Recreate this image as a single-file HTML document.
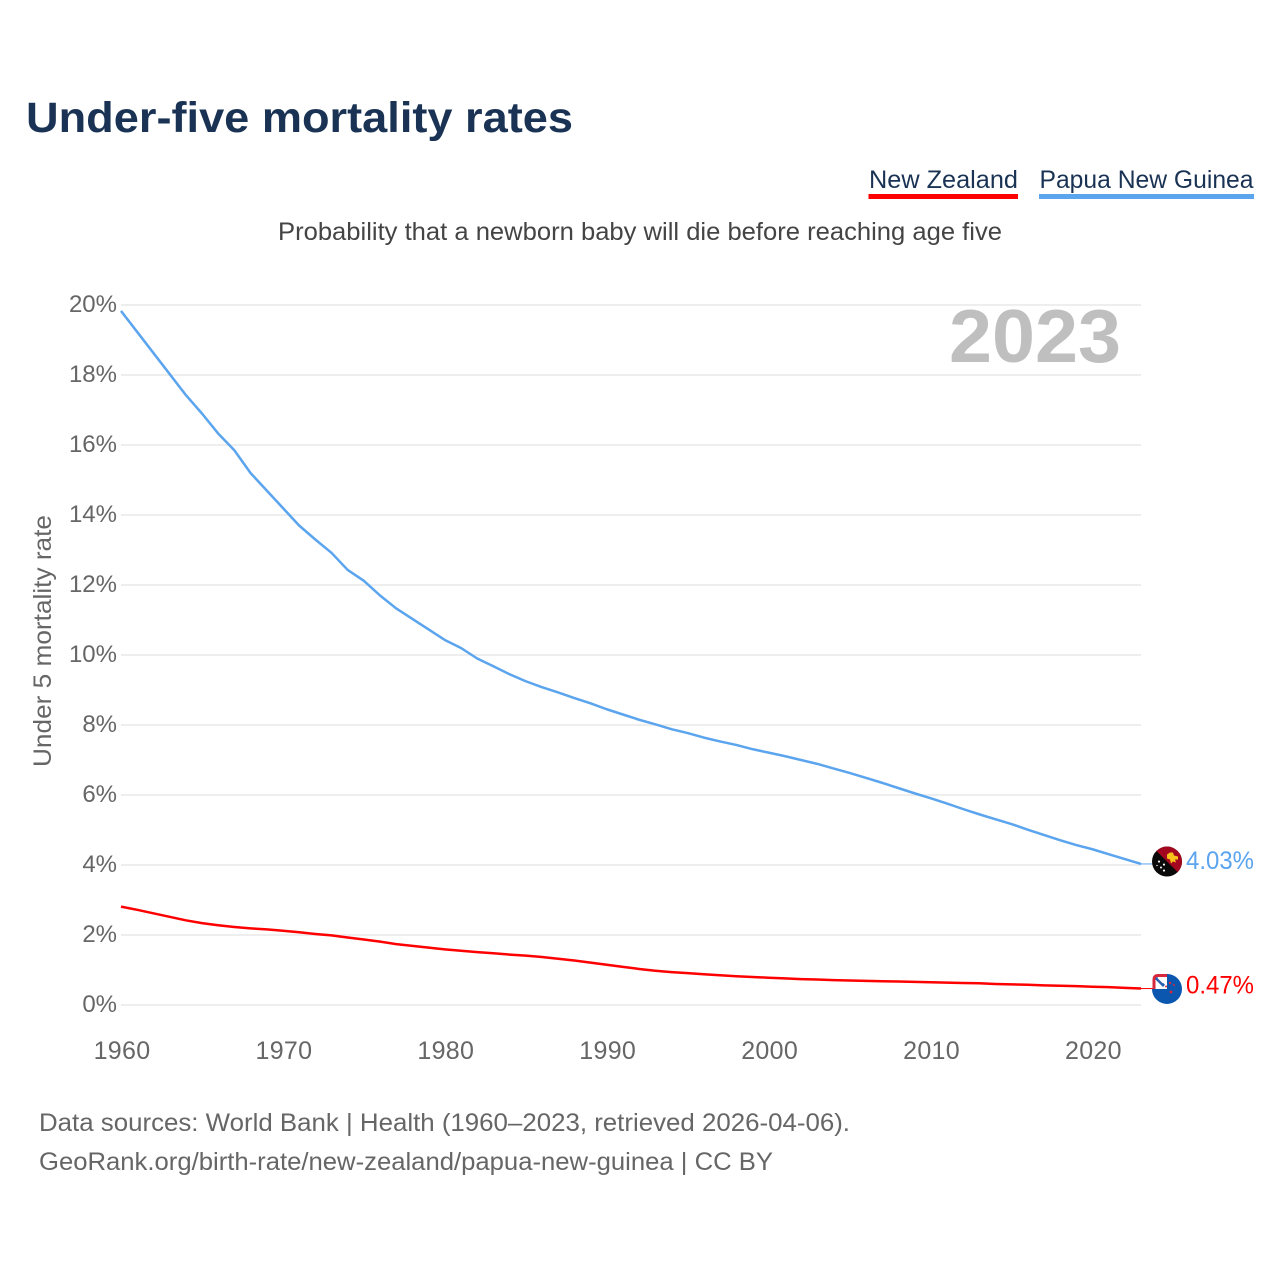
<!DOCTYPE html>
<html lang="en">
<head>
<meta charset="utf-8">
<title>Under-five mortality rates</title>
<style>
html,body{margin:0;padding:0;background:#fff}
svg{display:block}
text{font-family:"Liberation Sans",sans-serif}
</style>
</head>
<body>
<svg id="chart" xmlns="http://www.w3.org/2000/svg" width="1280" height="1280" viewBox="0 0 1280 1280">
<rect width="1280" height="1280" fill="#fff"/>
<text x="26" y="132" font-size="43" font-weight="700" fill="#1a3354" textLength="547" lengthAdjust="spacingAndGlyphs">Under-five mortality rates</text>
<g>
<text x="869" y="188" font-size="25" fill="#1a3354" textLength="149" lengthAdjust="spacingAndGlyphs">New Zealand</text>
<rect x="868.500" y="194" width="149.500" height="5" fill="#ff0000"/>
</g>
<g>
<text x="1039.500" y="188" font-size="25" fill="#1a3354" textLength="214" lengthAdjust="spacingAndGlyphs">Papua New Guinea</text>
<rect x="1039" y="194" width="215" height="5" fill="#5ba4ee"/>
</g>
<text x="278" y="240" font-size="25" fill="#444" textLength="724" lengthAdjust="spacingAndGlyphs">Probability that a newborn baby will die before reaching age five</text>
<text transform="translate(51,767) rotate(-90)" font-size="25" fill="#666" textLength="252" lengthAdjust="spacingAndGlyphs">Under 5 mortality rate</text>
<g id="grid"></g>
<g id="yticks"></g>
<g id="xticks"></g>
<text x="949" y="362" font-size="75" font-weight="700" fill="#bfbfbf" textLength="172" lengthAdjust="spacingAndGlyphs">2023</text>
<g id="series"></g>
<g id="flag-pg">
<clipPath id="clip-pg"><circle cx="0" cy="0" r="15"/></clipPath>
<g clip-path="url(#clip-pg)">
<rect x="-15" y="-15" width="30" height="30" fill="#0a0a0a"/>
<path d="M-15 -15H15V15Z" fill="#a3071f"/>
<path d="M0 -7l3 -2 3 0 1 3 4 1 0 3 -3 0 1 3 -3 -1 -2 2 -1 -4 -3 -1Z" fill="#f8c21c"/>
<g fill="#fff">
<circle cx="-8" cy="0" r="1.100"/><circle cx="-3" cy="3" r="1.100"/><circle cx="-6" cy="6" r="1"/><circle cx="-3" cy="9" r="1.100"/><circle cx="-10" cy="4" r=".7"/>
</g>
</g>
</g>
<g id="flag-nz">
<path d="M0 -15A15 15 0 1 1 -15 0L-15 0H0Z" fill="#0b57b0"/>
<path d="M-13 0V-9Q-13 -13.500 -9 -13.500H0V0Z" fill="#fff"/>
<path d="M-13 0V-9Q-13 -13.500 -9 -13.500H0" fill="none" stroke="#d8283c" stroke-width="3"/>
<path d="M-11 -11L-3 -3" stroke="#2a5fb0" stroke-width="3"/>
<path d="M-9 -11L-4 -6" stroke="#fff" stroke-width="1"/>
<g fill="#d8283c"><circle cx="3" cy="-6" r="1.200"/><circle cx="-1" cy="-2.500" r="1"/><circle cx="7" cy="-4" r="1"/><circle cx="4" cy="3" r="1.400"/></g>
</g>
<g id="end-labels"></g>
<text x="39" y="1131" font-size="25" fill="#666" textLength="811" lengthAdjust="spacingAndGlyphs">Data sources: World Bank | Health (1960–2023, retrieved 2026-04-06).</text>
<text x="39" y="1170" font-size="25" fill="#666" textLength="734" lengthAdjust="spacingAndGlyphs">GeoRank.org/birth-rate/new-zealand/papua-new-guinea | CC BY</text>
</svg>
<script>
const startYear = 1960;
const endYear = 2023;
const yTickValues = [0, 2, 4, 6, 8, 10, 12, 14, 16, 18, 20];
const xTickValues = [1960, 1970, 1980, 1990, 2000, 2010, 2020];
const newZealandValues = [2.81,2.72,2.62,2.52,2.42,2.34,2.28,2.23,2.19,2.16,2.12,2.08,2.03,1.99,1.93,1.87,1.81,1.74,1.69,1.64,1.59,1.55,1.51,1.48,1.44,1.41,1.37,1.32,1.27,1.21,1.15,1.09,1.03,0.98,0.94,0.91,0.88,0.85,0.82,0.80,0.78,0.76,0.74,0.73,0.71,0.70,0.69,0.68,0.67,0.66,0.65,0.64,0.63,0.62,0.60,0.59,0.58,0.56,0.55,0.54,0.52,0.51,0.49,0.47];
const papuaNewGuineaValues = [19.83,19.23,18.63,18.03,17.43,16.90,16.33,15.85,15.20,14.70,14.20,13.70,13.30,12.92,12.43,12.12,11.70,11.33,11.03,10.73,10.43,10.20,9.90,9.68,9.45,9.25,9.08,8.93,8.77,8.62,8.45,8.30,8.15,8.02,7.88,7.77,7.64,7.53,7.43,7.31,7.21,7.11,7.00,6.89,6.76,6.63,6.49,6.35,6.20,6.05,5.91,5.76,5.60,5.45,5.31,5.17,5.01,4.86,4.71,4.57,4.45,4.31,4.17,4.03];

const NS = 'http://www.w3.org/2000/svg';
function xScale(year) { return 121 + (year - 1960) * (1141 - 121) / (2023 - 1960); }
function yScale(v) { return 1005 - v * 35; }
function make(tag, attrs, parent, txt) {
  const el = document.createElementNS(NS, tag);
  for (const k in attrs) el.setAttribute(k, attrs[k]);
  if (txt !== undefined) el.textContent = txt;
  parent.appendChild(el);
  return el;
}
const grid = document.getElementById('grid');
const yticks = document.getElementById('yticks');
const xticks = document.getElementById('xticks');
const series = document.getElementById('series');
const endLabels = document.getElementById('end-labels');

yTickValues.forEach(function (v) {
  const ln = make('line', {x1: 121, x2: 1141, y1: yScale(v), y2: yScale(v), stroke: '#eeeeee', 'stroke-width': 2}, grid);
  
  
  const t = make('text', {x: 117, y: yScale(v) + 7, 'text-anchor': 'end', 'font-size': 24, fill: '#666'}, yticks, v + '%');
  
  
});
xTickValues.forEach(function (yr) {
  const t = make('text', {x: xScale(yr) + 1, y: 1059, 'text-anchor': 'middle', 'font-size': 25, 'letter-spacing': '0.300', fill: '#666'}, xticks, String(yr));
  
  
});
function linePath(values) {
  return values.map(function (v, i) {
    return (i ? 'L' : 'M') + xScale(startYear + i).toFixed(2) + ' ' + yScale(v).toFixed(2);
  }).join('');
}
const pngLine = make('path', {d: linePath(papuaNewGuineaValues), fill: 'none', stroke: '#5ba4ee', 'stroke-width': 2.5, 'stroke-linejoin': 'round'}, series);


const nzLine = make('path', {d: linePath(newZealandValues), fill: 'none', stroke: '#ff0000', 'stroke-width': 2.5, 'stroke-linejoin': 'round'}, series);



const pngLast = papuaNewGuineaValues[papuaNewGuineaValues.length - 1];
const nzLast = newZealandValues[newZealandValues.length - 1];
const pngLead = make('line', {x1: xScale(endYear), x2: 1153, y1: yScale(pngLast), y2: yScale(pngLast), stroke: '#5ba4ee', 'stroke-width': 1}, series);


const nzLead = make('line', {x1: xScale(endYear), x2: 1153, y1: yScale(nzLast), y2: yScale(nzLast), stroke: '#ff0000', 'stroke-width': 1}, series);



document.getElementById('flag-pg').setAttribute('transform', 'translate(1167,' + (yScale(pngLast) - 2.4) + ')');
document.getElementById('flag-nz').setAttribute('transform', 'translate(1167,' + (yScale(nzLast) + 0.4) + ')');

const pngLabel = make('text', {x: 1186, y: yScale(pngLast) + 5, 'font-size': 25, fill: '#5ba4ee', textLength: 68, lengthAdjust: 'spacingAndGlyphs'}, endLabels, pngLast.toFixed(2) + '%');


const nzLabel = make('text', {x: 1186, y: yScale(nzLast) + 5, 'font-size': 25, fill: '#ff0000', textLength: 68, lengthAdjust: 'spacingAndGlyphs'}, endLabels, nzLast.toFixed(2) + '%');


</script>
</body>
</html>
